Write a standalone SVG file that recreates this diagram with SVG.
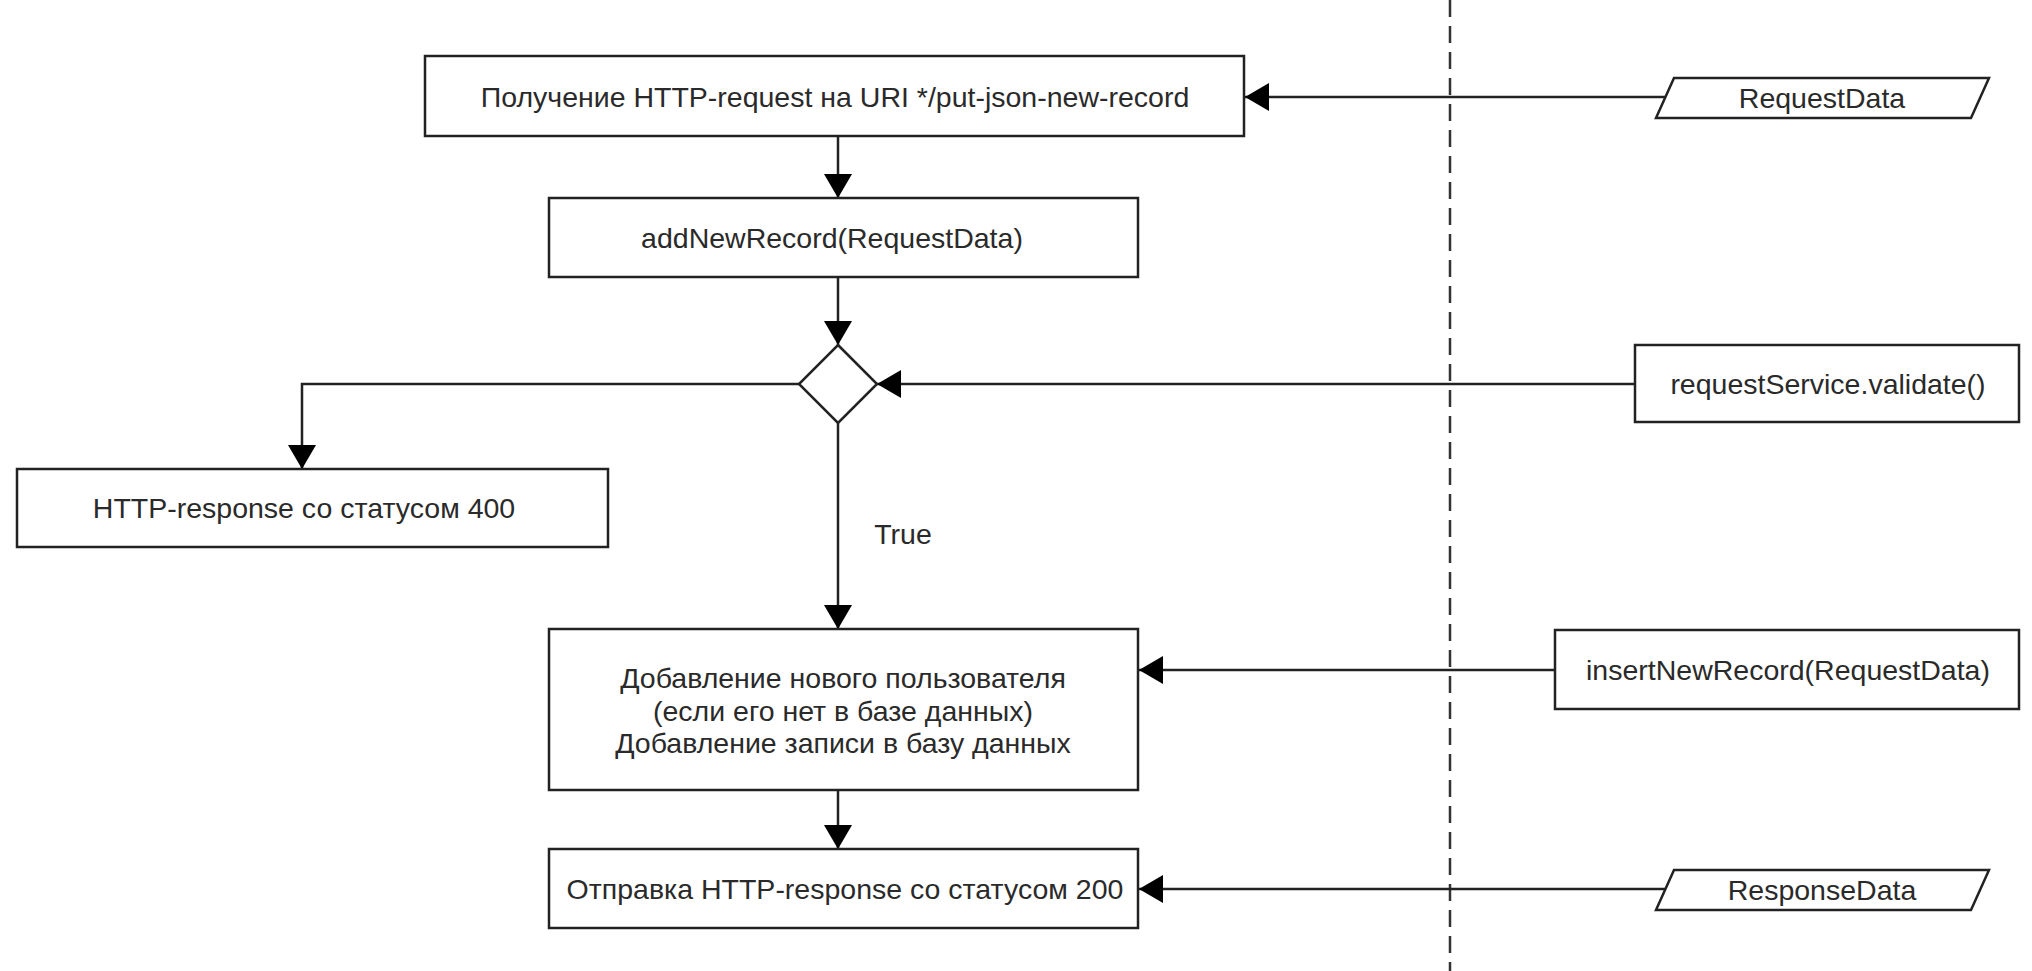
<svg xmlns="http://www.w3.org/2000/svg" width="2032" height="971" viewBox="0 0 2032 971">
<style>
.box{fill:#fff;stroke:#222;stroke-width:2.5}
.ln{fill:none;stroke:#222;stroke-width:2.5}
.dash{fill:none;stroke:#333;stroke-width:2.5;stroke-dasharray:17,9}
text{font-family:"Liberation Sans",Arial,sans-serif;font-size:28.5px;fill:#2a2a2a;text-anchor:middle;dominant-baseline:central}
</style>
<defs>
<marker id="ah" viewBox="0 0 24 28" refX="24" refY="14" markerWidth="24" markerHeight="28" markerUnits="userSpaceOnUse" orient="auto">
<path d="M0,0 L24,14 L0,28 Z" fill="#000"/>
</marker>
</defs>
<rect width="2032" height="971" fill="#fff"/>
<line class="dash" x1="1450" y1="0" x2="1450" y2="971"/>
<g id="connectors">
<line class="ln" x1="1672" y1="97" x2="1245" y2="97" marker-end="url(#ah)"/>
<line class="ln" x1="838" y1="136" x2="838" y2="198" marker-end="url(#ah)"/>
<line class="ln" x1="838" y1="277" x2="838" y2="345" marker-end="url(#ah)"/>
<line class="ln" x1="1635" y1="384" x2="877" y2="384" marker-end="url(#ah)"/>
<polyline class="ln" points="799,384 302,384 302,469" marker-end="url(#ah)"/>
<line class="ln" x1="838" y1="423" x2="838" y2="629" marker-end="url(#ah)"/>
<text x="903" y="534">True</text>
<line class="ln" x1="1555" y1="670" x2="1139" y2="670" marker-end="url(#ah)"/>
<line class="ln" x1="838" y1="790" x2="838" y2="849" marker-end="url(#ah)"/>
<line class="ln" x1="1672" y1="889" x2="1139" y2="889" marker-end="url(#ah)"/>
</g>
<g id="n1"><rect class="box" x="425" y="56" width="819" height="80"/><text x="835" y="97">Получение HTTP-request на URI */put-json-new-record</text></g>
<g id="n2"><rect class="box" x="549" y="198" width="589" height="79"/><text x="832" y="238">addNewRecord(RequestData)</text></g>
<g id="n3"><polygon class="box" points="838,345 877,384 838,423 799,384"/></g>
<g id="n4"><rect class="box" x="17" y="469" width="591" height="78"/><text x="304" y="508">HTTP-response со статусом 400</text></g>
<g id="n5"><rect class="box" x="1635" y="345" width="384" height="77"/><text x="1828" y="384">requestService.validate()</text></g>
<g id="n6"><rect class="box" x="549" y="629" width="589" height="161"/><text x="843" y="678">Добавление нового пользователя</text><text x="843" y="711">(если его нет в базе данных)</text><text x="843" y="743">Добавление записи в базу данных</text></g>
<g id="n7"><rect class="box" x="1555" y="630" width="464" height="79"/><text x="1788" y="670">insertNewRecord(RequestData)</text></g>
<g id="n8"><rect class="box" x="549" y="849" width="589" height="79"/><text x="845" y="889">Отправка HTTP-response со статусом 200</text></g>
<g id="n9"><polygon class="box" points="1674,78 1989,78 1971,118 1656,118"/><text x="1822" y="98">RequestData</text></g>
<g id="n10"><polygon class="box" points="1674,870 1989,870 1971,910 1656,910"/><text x="1822" y="890">ResponseData</text></g>
</svg>
